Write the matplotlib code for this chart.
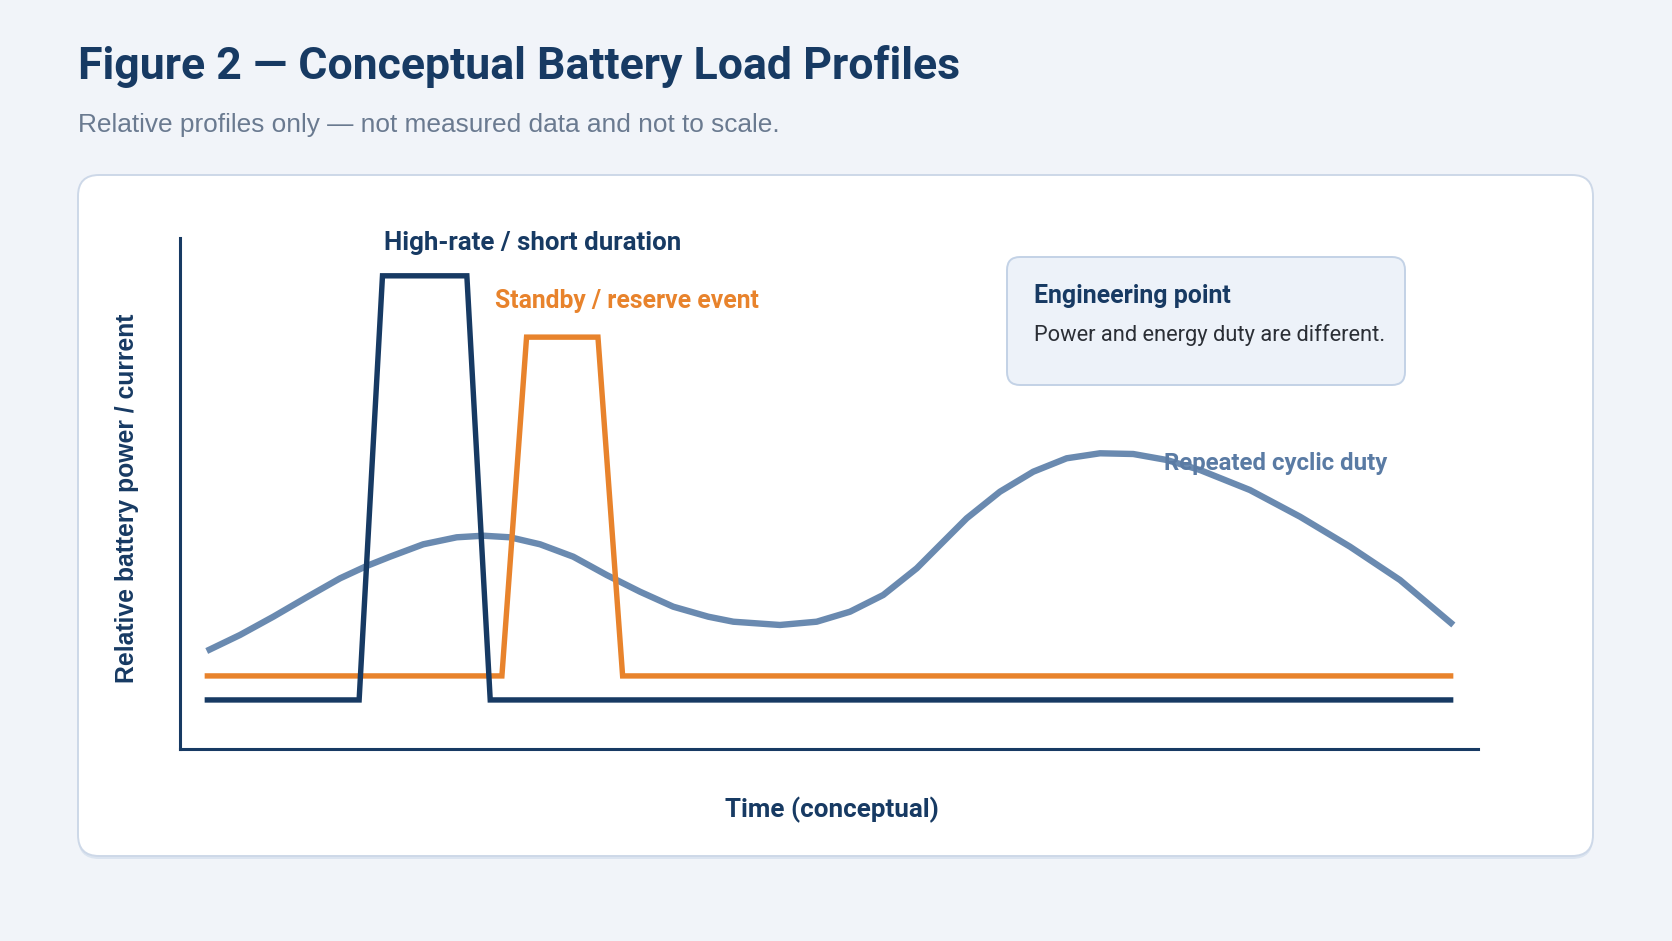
import matplotlib
matplotlib.use("Agg")
import matplotlib.pyplot as plt
from matplotlib.patches import FancyBboxPatch

# ---------------- data (conceptual) ----------------
high_rate_t = [1.9, 13.8, 15.6, 22.1, 23.9, 98.1]
high_rate_v = [9.6, 9.6, 92.6, 92.6, 9.6, 9.6]

standby_t = [1.9, 24.8, 26.7, 32.2, 34.1, 98.1]
standby_v = [14.3, 14.3, 80.6, 80.6, 14.3, 14.3]

cyclic_t = [2.06, 4.62, 7.19, 9.76, 12.33, 14.38, 16.18, 18.74, 21.32, 23.37,
            25.42, 27.74, 30.30, 32.87, 35.44, 38.00, 40.70, 42.63, 46.22, 49.05,
            51.62, 54.18, 56.76, 58.55, 60.61, 63.17, 65.74, 68.31, 70.88, 73.44,
            76.02, 78.58, 82.43, 86.29, 90.14, 93.99, 98.10]
cyclic_v = [19.18, 22.31, 25.89, 29.69, 33.40, 35.81, 37.63, 40.06, 41.43, 41.74,
            41.43, 40.06, 37.63, 34.05, 30.78, 27.85, 25.89, 24.91, 24.27, 24.91,
            26.87, 30.14, 35.36, 39.92, 45.15, 50.35, 54.27, 56.89, 57.87, 57.73,
            56.56, 54.60, 50.68, 45.46, 39.59, 33.07, 24.27]

series_labels = ["High-rate / short duration", "Standby / reserve event", "Repeated cyclic duty"]
title = "Figure 2 \u2014 Conceptual Battery Load Profiles"
subtitle = "Relative profiles only \u2014 not measured data and not to scale."
xlabel = "Time (conceptual)"
ylabel = "Relative battery power / current"
note_title = "Engineering point"
note_body = "Power and energy duty are different."

# ---------------- style ----------------
W, H = 1672, 941
BG = "#f1f4f9"
NAVY = "#173a63"
ORANGE = "#e8832c"
STEEL = "#6a8ab0"
STEEL_TXT = "#5a7ba4"
SUB = "#6a7a90"

fig = plt.figure(figsize=(W / 100, H / 100), dpi=100, facecolor=BG)
bg = fig.add_axes([0, 0, 1, 1])
bg.set_xlim(0, W)
bg.set_ylim(H, 0)
bg.axis("off")
bg.set_facecolor(BG)

renderer = fig.canvas.get_renderer()


def fit(txt, target_w, rotated=False):
    bb = txt.get_window_extent(renderer=renderer)
    cur = bb.height if rotated else bb.width
    txt.set_fontsize(txt.get_fontsize() * target_w / cur)


# card with soft shadow
shadow = FancyBboxPatch((78, 178), 1515, 681, boxstyle="round,pad=0,rounding_size=21",
                        facecolor="#dbe4f0", edgecolor="none", zorder=0.5)
bg.add_patch(shadow)
card = FancyBboxPatch((78, 175), 1515, 681, boxstyle="round,pad=0,rounding_size=21",
                      facecolor="white", edgecolor="#cdd8e8", linewidth=1.4, zorder=1)
bg.add_patch(card)

# info box
box = FancyBboxPatch((1007, 257), 398, 128, boxstyle="round,pad=0,rounding_size=13",
                     facecolor="#edf2f9", edgecolor="#c3d2e6", linewidth=1.4, zorder=2)
bg.add_patch(box)

t = bg.text(78, 79, title, fontsize=30, fontweight="bold", color=NAVY,
            family=["Roboto", "DejaVu Sans"], va="baseline", ha="left", zorder=3)
fit(t, 881)
t = bg.text(78, 132, subtitle, fontsize=18, color=SUB,
            family=["Liberation Sans", "DejaVu Sans"], va="baseline", ha="left", zorder=3)
fit(t, 700)

t = bg.text(1034, 296, note_title, fontsize=16, fontweight="bold", color=NAVY,
            family=["Roboto", "DejaVu Sans"], va="center", ha="left", zorder=3)
fit(t, 197)
t = bg.text(1034, 335, note_body, fontsize=14, color="#2b2f36",
            family=["Roboto", "DejaVu Sans"], va="center", ha="left", zorder=3)
fit(t, 355)

t = bg.text(832, 810, xlabel, fontsize=17, fontweight="bold", color=NAVY,
            family=["Roboto", "DejaVu Sans"], va="center", ha="center", zorder=3)
fit(t, 214)
t = bg.text(127, 498, ylabel, fontsize=17, fontweight="bold", color=NAVY, rotation=90,
            family=["Liberation Sans", "DejaVu Sans"], va="center", ha="center", zorder=3)
fit(t, 371, rotated=True)

# ---------------- plot axes ----------------
ax = fig.add_axes([180 / W, 1 - 749 / H, (1478 - 180) / W, (749 - 238) / H])
ax.patch.set_alpha(0)
ax.set_xlim(0, 100)
ax.set_ylim(0, 100)
for s in ["top", "right"]:
    ax.spines[s].set_visible(False)
for s in ["left", "bottom"]:
    ax.spines[s].set_color(NAVY)
    ax.spines[s].set_linewidth(2.2)
ax.set_xticks([])
ax.set_yticks([])

ax.plot(cyclic_t, cyclic_v, color=STEEL, lw=4.6, solid_joinstyle="round",
        solid_capstyle="butt", zorder=2)
ax.plot(standby_t, standby_v, color=ORANGE, lw=3.9, solid_joinstyle="miter",
        solid_capstyle="butt", zorder=3)
ax.plot(high_rate_t, high_rate_v, color=NAVY, lw=3.9, solid_joinstyle="miter",
        solid_capstyle="butt", zorder=4)

t = ax.text(15.7, 99.0, series_labels[0], fontsize=17, fontweight="bold", color=NAVY,
            family=["Roboto", "DejaVu Sans"], va="center", ha="left", clip_on=False, zorder=5)
fit(t, 297)
t = ax.text(24.3, 87.7, series_labels[1], fontsize=17, fontweight="bold", color=ORANGE,
            family=["Roboto", "DejaVu Sans"], va="center", ha="left", clip_on=False, zorder=5)
fit(t, 264)
t = ax.text(75.8, 55.9, series_labels[2], fontsize=17, fontweight="bold", color=STEEL_TXT,
            family=["Roboto", "DejaVu Sans"], va="center", ha="left", clip_on=False, zorder=5)
fit(t, 224)

fig.savefig("out.png", dpi=100, facecolor=BG)
